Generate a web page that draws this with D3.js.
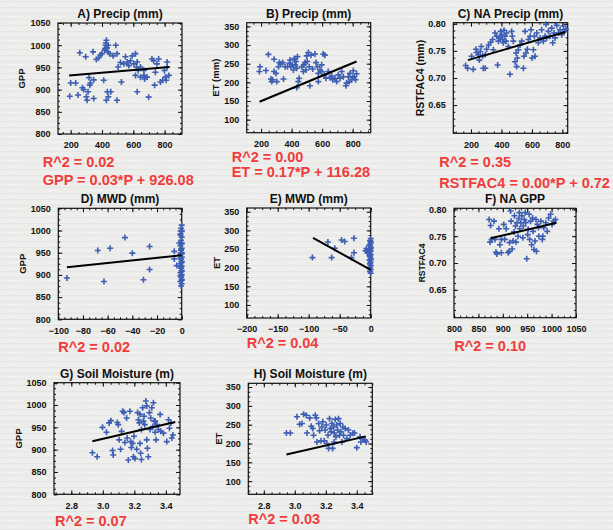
<!DOCTYPE html>
<html>
<head>
<meta charset="utf-8">
<script src="https://cdn.jsdelivr.net/npm/d3@7"></script>
<style>
  html, body { margin: 0; padding: 0; background: #ececea; }
  svg { display: block; font-family: "Liberation Sans", Arial, Helvetica, sans-serif; font-weight: bold; }
</style>
</head>
<body>
<script>
// tick values
const xtPrecip = [200, 400, 600, 800];
const xtMWD_D = [-100, -80, -60, -40, -20, 0];
const xtMWD_E = [-200, -150, -100, -50, 0];
const xtGPP = [800, 850, 900, 950, 1000, 1050];
const xtSoil = [2.8, 3.0, 3.2, 3.4];
const ytGPP = [800, 850, 900, 950, 1000, 1050];
const ytET = [100, 150, 200, 250, 300, 350];
const ytRST = [0.65, 0.70, 0.75, 0.80];

// scatter points [x, y]
const ptsA = [[194,885],[200,915],[232,915],[247,888],[258,983],[275,904],[283,900],[296,974],[300,884],[305,876],[311,895],[317,927],[322,910],[326,915],[347,922],[347,880],[343,985],[364,968],[379,972],[389,978],[400,981],[411,921],[417,989],[423,1000],[428,1011],[432,994],[438,985],[434,895],[428,876],[441,884],[456,895],[449,981],[471,976],[488,1000],[496,981],[503,951],[496,876],[518,961],[524,917],[539,958],[550,974],[561,962],[571,954],[582,965],[593,976],[603,958],[614,981],[620,951],[625,962],[631,943],[625,895],[614,932],[646,951],[668,943],[672,924],[688,928],[698,883],[719,969],[730,965],[741,939],[736,910],[751,958],[762,969],[773,917],[788,921],[799,943],[805,928],[816,951],[827,932],[810,921],[668,932],[646,928],[816,962],[420,993],[425,1005],[440,1000]];
const ptsB = [[189,229],[193,242],[232,232],[248,275],[265,209],[270,202],[276,207],[285,262],[285,229],[298,224],[303,202],[314,242],[320,253],[329,249],[342,253],[347,209],[358,242],[373,242],[386,251],[390,260],[395,242],[405,247],[412,233],[418,264],[423,247],[429,256],[434,238],[438,269],[444,202],[434,186],[449,211],[466,242],[477,229],[488,253],[494,233],[499,271],[503,256],[510,280],[516,242],[520,191],[527,273],[538,236],[553,276],[560,253],[569,242],[575,224],[586,233],[597,229],[607,276],[618,273],[614,220],[625,211],[640,229],[651,213],[662,217],[669,207],[684,211],[695,202],[706,220],[717,211],[728,229],[739,215],[756,191],[771,215],[782,224],[793,207],[804,231],[810,215],[819,207],[826,223],[760,198],[778,202],[799,213],[575,202],[597,247],[420,262],[480,247]];
const ptsC = [[165,0.723],[178,0.718],[204,0.740],[215,0.716],[233,0.753],[237,0.747],[248,0.743],[255,0.733],[261,0.749],[268,0.758],[277,0.741],[281,0.718],[294,0.718],[294,0.743],[303,0.753],[316,0.761],[329,0.766],[342,0.771],[347,0.752],[358,0.783],[369,0.777],[375,0.724],[380,0.768],[391,0.774],[395,0.786],[401,0.780],[408,0.771],[412,0.765],[417,0.788],[423,0.777],[430,0.768],[434,0.783],[445,0.758],[456,0.707],[467,0.786],[471,0.777],[478,0.768],[489,0.730],[496,0.746],[500,0.721],[504,0.737],[511,0.752],[522,0.761],[533,0.768],[544,0.718],[548,0.740],[555,0.786],[561,0.746],[570,0.753],[577,0.771],[588,0.777],[594,0.789],[601,0.737],[610,0.752],[616,0.777],[621,0.740],[632,0.783],[642,0.765],[653,0.774],[664,0.789],[675,0.768],[686,0.777],[693,0.799],[697,0.774],[708,0.786],[719,0.777],[730,0.792],[737,0.765],[745,0.783],[752,0.774],[763,0.797],[774,0.783],[785,0.789],[796,0.780],[807,0.796],[813,0.786],[824,0.790]];
const ptsD = [[-93,893],[-68,955],[-63,885],[-58,960],[-46,984],[-40,949],[-31,889],[-26,912],[-26,964],[-6,953],[-6,936],[-4,921],[-2,972],
  [0,1012],[-0.5,1005],[0,998],[-1,992],[0,985],[-0.5,978],[0,972],[-1,966],[0,960],[-0.5,955],[0,950],[-1,945],[0,940],[-0.5,935],[0,930],[-1,925],[0,920],[-0.5,915],[0,910],[-1,905],[0,900],[-0.5,895],[0,890],[-1,885],[0,880],[-0.5,875],[0,1000],[-1,990],[0,970],[-0.5,958],[0,948],[-1,938],[0,928],[-0.5,918],[0,908],[-1,898],[0,888]];
const ptsE = [[-94,227],[-69,269],[-63,227],[-58,252],[-47,274],[-42,270],[-27,279],[-27,240],[-31,227],[-8,245],[-7,251],[-5,239],
  [0,278],[-1,272],[0,266],[-2,260],[0,255],[-1,250],[0,245],[-2,240],[0,235],[-1,230],[0,225],[-2,220],[0,215],[-1,210],[0,205],[-1,200],[0,195],[-1,190],[0,185],[-3,248],[-4,243],[0,270],[-1,262],[0,252],[-2,232],[0,222],[-1,212]];
const ptsF = [[872,0.781],[875,0.770],[874,0.739],[877,0.744],[882,0.778],[884,0.744],[886,0.720],[888,0.717],[892,0.764],[894,0.734],[897,0.744],[897,0.719],[902,0.772],[904,0.744],[907,0.764],[911,0.719],[913,0.722],[914,0.738],[916,0.797],[917,0.778],[919,0.726],[921,0.741],[923,0.758],[924,0.788],[926,0.769],[927,0.739],[929,0.775],[931,0.750],[933,0.783],[934,0.794],[935,0.764],[937,0.775],[939,0.788],[941,0.747],[942,0.769],[944,0.781],[946,0.794],[947,0.775],[949,0.708],[951,0.753],[952,0.763],[954,0.791],[955,0.744],[957,0.778],[959,0.734],[961,0.784],[962,0.759],[964,0.725],[966,0.741],[968,0.781],[969,0.722],[971,0.772],[973,0.766],[974,0.750],[978,0.778],[981,0.744],[982,0.750],[984,0.766],[988,0.775],[991,0.759],[994,0.784],[998,0.791],[1001,0.772],[1004,0.778],[1008,0.781]];
const ptsG = [[2.934,893],[2.964,884],[2.998,950],[3.023,939],[3.040,960],[3.051,965],[3.062,898],[3.066,888],[3.092,961],[3.098,956],[3.104,922],[3.113,901],[3.119,941],[3.126,986],[3.134,983],[3.140,916],[3.151,971],[3.155,926],[3.162,877],[3.172,986],[3.177,918],[3.181,905],[3.189,914],[3.194,884],[3.198,930],[3.204,880],[3.215,901],[3.221,983],[3.226,967],[3.232,960],[3.236,979],[3.240,892],[3.245,945],[3.245,878],[3.253,994],[3.257,964],[3.262,975],[3.266,956],[3.273,1009],[3.279,998],[3.279,922],[3.283,903],[3.289,884],[3.296,983],[3.300,945],[3.304,971],[3.311,994],[3.317,952],[3.321,1005],[3.326,964],[3.332,939],[3.338,922],[3.343,956],[3.353,945],[3.364,979],[3.368,941],[3.385,937],[3.406,918],[3.417,967],[3.423,948],[3.438,926],[3.445,933],[3.432,960],[3.332,964],[3.236,914]];
const ptsH = [[2.946,228],[2.971,228],[3.014,271],[3.031,251],[3.046,253],[3.057,278],[3.074,275],[3.079,228],[3.096,268],[3.106,246],[3.116,240],[3.121,222],[3.132,275],[3.139,268],[3.143,204],[3.154,253],[3.160,234],[3.169,207],[3.175,244],[3.181,258],[3.190,207],[3.196,236],[3.203,249],[3.207,200],[3.214,222],[3.218,187],[3.224,266],[3.229,240],[3.235,231],[3.239,253],[3.244,187],[3.250,244],[3.254,228],[3.261,264],[3.265,218],[3.271,249],[3.276,236],[3.282,266],[3.289,222],[3.293,253],[3.297,231],[3.304,204],[3.310,244],[3.314,222],[3.325,240],[3.336,213],[3.346,236],[3.357,222],[3.374,227],[3.385,228],[3.400,189],[3.426,204],[3.439,212],[3.454,209],[3.460,204],[3.421,218],[3.254,204]];

// fitted lines
const fitA = [[190,932],[830,951]];
const fitB = [[190,148],[825,256]];
const fitC = [[180,0.733],[820,0.785]];
const fitD = [[-93,917],[0,944]];
const fitE = [[-93,280],[0,194]];
const fitF = [[875,0.746],[1010,0.775]];
const fitG = [[2.934,919],[3.46,962]];
const fitH = [[2.946,171],[3.458,219]];

// stats text
const statsA = ["R^2 = 0.02", "GPP = 0.03*P + 926.08"];
const statsB = ["R^2 = 0.00", "ET = 0.17*P + 116.28"];
const statsC = ["R^2 = 0.35", "RSTFAC4 = 0.00*P + 0.72"];
const statsD = ["R^2 = 0.02"];
const statsE = ["R^2 = 0.04"];
const statsF = ["R^2 = 0.10"];
const statsG = ["R^2 = 0.07"];
const statsH = ["R^2 = 0.03"];

const width = 613, height = 530;
const blue = "#3d5eb2", red = "#f03c3a";

const panels = [
  {title: "A) Precip (mm)", ylab: "GPP", ylx: 22, yls: 9.5, box: [58, 23, 182, 134], xd: [119, 911], yd: [800, 1050], xt: xtPrecip, yt: ytGPP, xf: d3.format("d"), yf: d3.format("d"), pts: ptsA, fit: fitA, stats: statsA, sx: 42.7, sy: 166.7, sdy: 18.3},
  {title: "B) Precip (mm)", ylab: "ET (mm)", ylx: 216, yls: 9.5, box: [246.7, 22.7, 370.7, 132.7], xd: [106, 918], yd: [65, 360], xt: xtPrecip, yt: ytET, xf: d3.format("d"), yf: d3.format("d"), pts: ptsB, fit: fitB, stats: statsB, sx: 231.7, sy: 161.6, sdy: 15.6},
  {title: "C) NA Precip (mm)", ylab: "RSTFAC4 (mm)", ylx: 420.7, yls: 10.5, box: [453.3, 22.7, 567.7, 133.3], xd: [84, 835], yd: [0.598, 0.802], xt: xtPrecip, yt: ytRST, xf: d3.format("d"), yf: d3.format(".2f"), pts: ptsC, fit: fitC, stats: statsC, sx: 439.3, sy: 166.7, sdy: 21.6},
  {title: "D) MWD (mm)", ylab: "GPP", ylx: 22.7, yls: 9.5, box: [58.3, 208.3, 181.7, 319.3], xd: [-100, 0], yd: [800, 1050], xt: xtMWD_D, yt: ytGPP, xf: d3.format("d"), yf: d3.format("d"), pts: ptsD, fit: fitD, stats: statsD, sx: 58.3, sy: 351.7, sdy: 0},
  {title: "E) MWD (mm)", ylab: "ET", ylx: 217, yls: 9.5, box: [246.7, 208, 370.7, 318], xd: [-200, 0], yd: [65, 360], xt: xtMWD_E, yt: ytET, xf: d3.format("d"), yf: d3.format("d"), pts: ptsE, fit: fitE, stats: statsE, sx: 246.7, sy: 348.3, sdy: 0},
  {title: "F) NA GPP", ylab: "RSTFAC4", ylx: 421.7, yls: 8.5, box: [454, 208.3, 576, 317.7], xd: [800, 1050], yd: [0.598, 0.802], xt: xtGPP, yt: ytRST, xf: d3.format("d"), yf: d3.format(".2f"), pts: ptsF, fit: fitF, stats: statsF, sx: 454.3, sy: 350.7, sdy: 0},
  {title: "G) Soil Moisture (m)", ylab: "GPP", ylx: 18.3, yls: 9.5, box: [54, 382.7, 180, 494.3], xd: [2.69, 3.49], yd: [800, 1050], xt: xtSoil, yt: ytGPP, xf: d3.format(".1f"), yf: d3.format("d"), pts: ptsG, fit: fitG, stats: statsG, sx: 55, sy: 525.7, sdy: 0},
  {title: "H) Soil Moisture (m)", ylab: "ET", ylx: 218.3, yls: 9.5, box: [248.3, 383.3, 372.3, 494.3], xd: [2.70, 3.50], yd: [65, 360], xt: xtSoil, yt: ytET, xf: d3.format(".1f"), yf: d3.format("d"), pts: ptsH, fit: fitH, stats: statsH, sx: 248.3, sy: 524, sdy: 0}
];

const svg = d3.select("body").append("svg")
  .attr("width", width)
  .attr("height", height)
  .attr("viewBox", [0, 0, width, height]);

// linen-ish background
const defs = svg.append("defs");
const pat = defs.append("pattern")
  .attr("id", "linen")
  .attr("width", 40).attr("height", 6)
  .attr("patternUnits", "userSpaceOnUse");
pat.append("rect").attr("width", 40).attr("height", 6).attr("fill", "#ededeb");
pat.append("line").attr("x1", 0).attr("x2", 40).attr("y1", 1.5).attr("y2", 1.5)
  .attr("stroke", "#e5e5e3").attr("stroke-width", 1);
pat.append("line").attr("x1", 5).attr("x2", 22).attr("y1", 4.5).attr("y2", 4.5)
  .attr("stroke", "#f3f3f1").attr("stroke-width", 1);
svg.append("rect").attr("width", width).attr("height", height).attr("fill", "url(#linen)");

function minorTicks(ticks, domain) {
  const step = (ticks[1] - ticks[0]) / 4;
  const out = [];
  const lo = Math.min(domain[0], domain[1]), hi = Math.max(domain[0], domain[1]);
  for (let k = Math.ceil((lo - ticks[0]) / step - 1e-9); ; k++) {
    const v = ticks[0] + k * step;
    if (v > hi + 1e-9) break;
    out.push(+v.toFixed(6));
  }
  return out;
}

panels.forEach(p => {
  const [x0, y0, x1, y1] = p.box;
  const x = d3.scaleLinear().domain(p.xd).range([x0, x1]);
  const y = d3.scaleLinear().domain(p.yd).range([y1, y0]);
  const g = svg.append("g");

  const xMinor = minorTicks(p.xt, p.xd);
  const yMinor = minorTicks(p.yt, p.yd);
  const xMajor = p.xt.filter(v => v >= Math.min(...p.xd) - 1e-9 && v <= Math.max(...p.xd) + 1e-9);
  const yMajor = p.yt.filter(v => v >= p.yd[0] - 1e-9 && v <= p.yd[1] + 1e-9);

  // x axes: bottom (with labels) and top
  [[d3.axisBottom, y1, true], [d3.axisTop, y0, false]].forEach(([ax, ty, lab]) => {
    g.append("g").attr("transform", `translate(0,${ty})`)
      .call(ax(x).tickValues(xMinor).tickSize(-2).tickFormat(""))
      .call(s => s.select(".domain").remove());
    const a = g.append("g").attr("transform", `translate(0,${ty})`)
      .call(ax(x).tickValues(xMajor).tickSize(-4).tickPadding(lab ? 8 : 0).tickFormat(lab ? p.xf : ""))
      .call(s => s.select(".domain").remove());
    a.selectAll("text").attr("font-size", 9).attr("font-weight", "bold")
      .attr("font-family", "Liberation Sans, Arial, sans-serif").attr("fill", "#111");
  });
  // y axes: left (with labels) and right
  [[d3.axisLeft, x0, true], [d3.axisRight, x1, false]].forEach(([ax, tx, lab]) => {
    g.append("g").attr("transform", `translate(${tx},0)`)
      .call(ax(y).tickValues(yMinor).tickSize(-2).tickFormat(""))
      .call(s => s.select(".domain").remove());
    const a = g.append("g").attr("transform", `translate(${tx},0)`)
      .call(ax(y).tickValues(yMajor).tickSize(-4).tickPadding(lab ? 7.5 : 0).tickFormat(lab ? p.yf : ""))
      .call(s => s.select(".domain").remove());
    a.selectAll("text").attr("font-size", 9).attr("font-weight", "bold")
      .attr("font-family", "Liberation Sans, Arial, sans-serif").attr("fill", "#111");
  });
  g.selectAll(".tick line").attr("stroke", "#111").attr("stroke-width", 1);

  // box
  g.append("rect")
    .attr("x", x0).attr("y", y0)
    .attr("width", x1 - x0).attr("height", y1 - y0)
    .attr("fill", "none").attr("stroke", "#111").attr("stroke-width", 1.2);

  // title
  g.append("text")
    .attr("x", (x0 + x1) / 2).attr("y", y0 - 5)
    .attr("text-anchor", "middle")
    .attr("font-size", 12)
    .attr("fill", "#111")
    .text(p.title);

  // y label
  g.append("text")
    .attr("transform", `translate(${p.ylx},${(y0 + y1) / 2}) rotate(-90)`)
    .attr("text-anchor", "middle")
    .attr("dy", "0.35em")
    .attr("font-size", p.yls)
    .attr("fill", "#111")
    .text(p.ylab);

  // points
  const s = 3;
  g.append("g").selectAll("path")
    .data(p.pts)
    .join("path")
    .attr("d", d => `M${x(d[0]) - s},${y(d[1])}h${2 * s}M${x(d[0])},${y(d[1]) - s}v${2 * s}`)
    .attr("stroke", blue)
    .attr("stroke-width", 1.6)
    .attr("fill", "none");

  // fit line
  g.append("path")
    .datum(p.fit)
    .attr("d", d3.line().x(d => x(d[0])).y(d => y(d[1])))
    .attr("stroke", "#000")
    .attr("stroke-width", 2)
    .attr("fill", "none");

  // stats
  g.selectAll("text.stat")
    .data(p.stats)
    .join("text")
    .attr("class", "stat")
    .attr("x", p.sx)
    .attr("y", (d, i) => p.sy + i * p.sdy)
    .attr("font-size", 14.5)
    .attr("fill", red)
    .text(d => d);
});
</script>
</body>
</html>
